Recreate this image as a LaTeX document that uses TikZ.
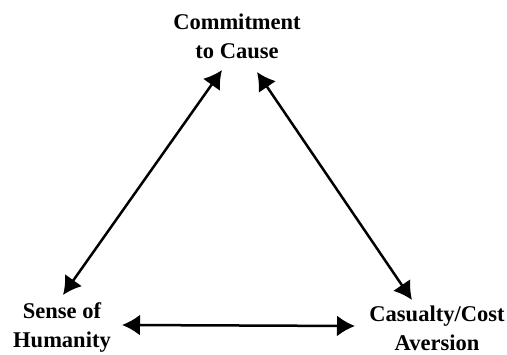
\documentclass[tikz,border=0pt]{standalone}
\usepackage{fontspec}
\setmainfont{Liberation Serif}
\usepackage{tikz}
\usetikzlibrary{arrows.meta,calc}

\begin{document}
\begin{tikzpicture}[x=1pt,y=-1pt,
		factor/.style={align=center,inner sep=0pt,font=\fontsize{22.5}{29}\selectfont\bfseries},
		link/.style={{Latex[length=18pt,width=21pt]}-{Latex[length=18pt,width=21pt]},line width=2.5pt},
	]
		\useasboundingbox (0,0) rectangle (507,355);
		\node[factor] (cause) at (237,36) {Commitment\\to Cause};
		\node[factor] (human) at (62,328) {Sense of\\Humanity};
		\node[factor] (cost) at (437,328) {Casualty/Cost\\Aversion};
		% arrow ends next to the labels
		\coordinate (cause-l) at ($(cause)+(-15,34)$);
		\coordinate (cause-r) at ($(cause)+(20,36)$);
		\coordinate (human-t) at ($(human)+(1,-33)$);
		\coordinate (human-r) at ($(human)+(60,-3)$);
		\coordinate (cost-t) at ($(cost)+(-25,-28)$);
		\coordinate (cost-l) at ($(cost)+(-82,-2)$);
		\draw[link] (cause-l) -- (human-t);
		\draw[link] (cause-r) -- (cost-t);
		\draw[link] (human-r) -- (cost-l);
	\end{tikzpicture}
\end{document}
